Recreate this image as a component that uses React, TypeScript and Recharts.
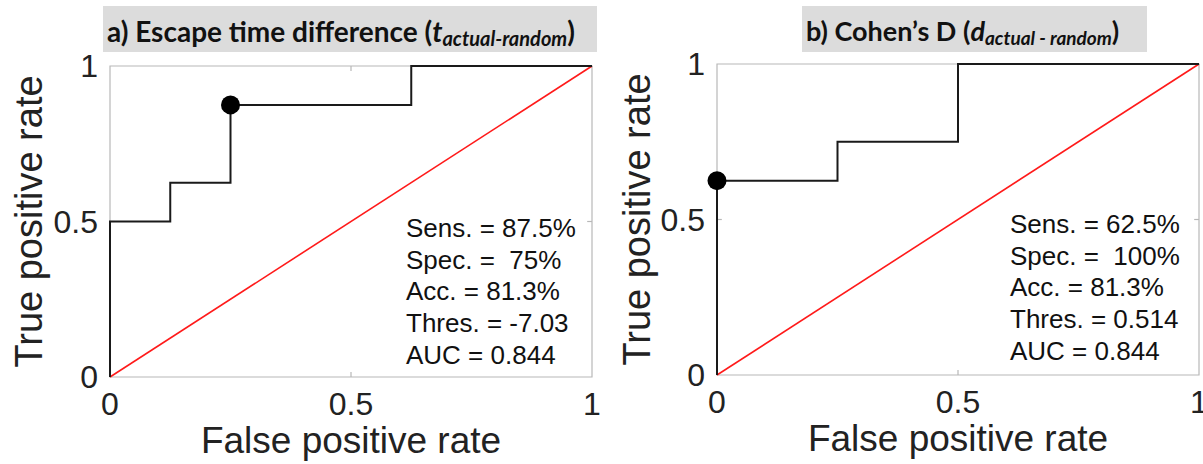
import React from 'react';
import { ComposedChart, Line, Scatter, XAxis, YAxis, ReferenceArea, ReferenceLine, Label } from 'recharts';

// ---- data ----
const fprA = [0, 0, 0.125, 0.125, 0.25, 0.25, 0.625, 0.625, 1];
const tprA = [0, 0.5, 0.5, 0.625, 0.625, 0.875, 0.875, 1, 1];
const fprB = [0, 0, 0.25, 0.25, 0.5, 0.5, 1];
const tprB = [0, 0.625, 0.625, 0.75, 0.75, 1, 1];
const chanceFpr = [0, 1];
const chanceTpr = [0, 1];
const optFprA = [0.25];
const optTprA = [0.875];
const optFprB = [0];
const optTprB = [0.625];
const axisTicks = [0, 0.5, 1];
const axisTickLabels = ['0', '0.5', '1'];
const statsA = ['Sens. = 87.5%', 'Spec. =  75%', 'Acc. = 81.3%', 'Thres. = -7.03', 'AUC = 0.844'];
const statsB = ['Sens. = 62.5%', 'Spec. =  100%', 'Acc. = 81.3%', 'Thres. = 0.514', 'AUC = 0.844'];
const xLabel = 'False positive rate';
const yLabel = 'True positive rate';

const zip = (xs: number[], ys: number[]) => xs.map((x, i) => ({ x, y: ys[i] }));

const SANS = '"Liberation Sans", Arial, Helvetica, sans-serif';
const TEXT = '#222';
const FRAME = '#b8b8b8';

type PanelProps = {
  left: number;
  width: number;
  yAxisWidth: number;
  margin: { top: number; right: number; bottom: number; left: number };
  yLabelX: number;
  curve: { x: number; y: number }[];
  opt: { x: number; y: number }[];
  tickLenY: number;
  tickLenX: number;
};

const fmt = (v: number) => axisTickLabels[axisTicks.indexOf(v)] ?? String(v);

function Panel(p: PanelProps) {
  const chance = zip(chanceFpr, chanceTpr);
  return (
    <div style={{ position: 'absolute', left: p.left, top: 0 }}>
      <ComposedChart width={p.width} height={464} margin={p.margin}>
        <XAxis
          type="number"
          dataKey="x"
          domain={[0, 1]}
          ticks={axisTicks}
          tickFormatter={fmt}
          interval={0}
          axisLine={false}
          tickLine={false}
          tickSize={0}
          tickMargin={15}
          height={40}
          tick={{ fontSize: 32, fill: TEXT, fontFamily: SANS }}
        >
          <Label
            content={(props: any) => {
              const vb = props.viewBox || {};
              return (
                <text x={vb.x + vb.width / 2} y={vb.y + 76} textAnchor="middle" fontSize={37} fill={TEXT} fontFamily={SANS}>
                  {xLabel}
                </text>
              );
            }}
          />
        </XAxis>
        <YAxis
          type="number"
          dataKey="y"
          domain={[0, 1]}
          ticks={axisTicks}
          tickFormatter={fmt}
          interval={0}
          axisLine={false}
          tickLine={false}
          tickSize={0}
          tickMargin={12}
          width={p.yAxisWidth}
          tick={{ fontSize: 32, fill: TEXT, fontFamily: SANS }}
        >
          <Label
            content={(props: any) => {
              const vb = props.viewBox || {};
              const cx = vb.x + p.yLabelX;
              const cy = vb.y + vb.height / 2;
              return (
                <text x={cx} y={cy} transform={`rotate(-90, ${cx}, ${cy})`} textAnchor="middle" fontSize={38} fill={TEXT} fontFamily={SANS}>
                  {yLabel}
                </text>
              );
            }}
          />
        </YAxis>
        <ReferenceArea x1={0} x2={1} y1={0} y2={1} fill="none" stroke={FRAME} strokeWidth={1.2} ifOverflow="visible" />
        <ReferenceLine segment={[{ x: 0.5, y: 0 }, { x: 0.5, y: p.tickLenY }]} stroke={FRAME} strokeWidth={1.2} />
        <ReferenceLine segment={[{ x: 0.5, y: 1 }, { x: 0.5, y: 1 - p.tickLenY }]} stroke={FRAME} strokeWidth={1.2} />
        <ReferenceLine segment={[{ x: 0, y: 0.5 }, { x: p.tickLenX, y: 0.5 }]} stroke={FRAME} strokeWidth={1.2} />
        <ReferenceLine segment={[{ x: 1, y: 0.5 }, { x: 1 - p.tickLenX, y: 0.5 }]} stroke={FRAME} strokeWidth={1.2} />
        <Line data={chance} dataKey="y" type="linear" stroke="#ff1a1a" strokeWidth={1.6} dot={false} isAnimationActive={false} />
        <Line data={p.curve} dataKey="y" type="linear" stroke="#1a1a1a" strokeWidth={2} dot={false} isAnimationActive={false} />
        <Scatter
          data={p.opt}
          dataKey="y"
          isAnimationActive={false}
          shape={(s: any) => <circle cx={s.cx} cy={s.cy} r={9.5} fill="#000" />}
        />
      </ComposedChart>
    </div>
  );
}

function Title({ left, width, main, italic, sub, size }: { left: number; width: number; main: string; italic: string; sub: string; size: number }) {
  return (
    <div
      style={{
        position: 'absolute',
        left,
        top: 6,
        width,
        height: 46,
        background: '#dcdcdc',
        fontFamily: 'Lato, "Open Sans", sans-serif',
        fontWeight: 700,
        fontSize: size,
        lineHeight: '46px',
        paddingLeft: 4,
        paddingTop: 2,
        boxSizing: 'border-box',
        color: '#111',
        whiteSpace: 'pre',
        overflow: 'hidden',
      }}
    >
      {main}
      <span style={{ fontStyle: 'italic' }}>{italic}</span>
      <span style={{ fontStyle: 'italic', fontSize: Math.round(size * 0.72), verticalAlign: -4 }}>{sub}</span>
      {')'}
    </div>
  );
}

function Stats({ left, top, lines }: { left: number; top: number; lines: string[] }) {
  return (
    <div
      style={{
        position: 'absolute',
        left,
        top,
        fontFamily: SANS,
        fontSize: 26,
        lineHeight: '31.7px',
        color: '#111',
        whiteSpace: 'pre',
      }}
    >
      {lines.map((l, i) => (
        <div key={i}>{l}</div>
      ))}
    </div>
  );
}

export default function App() {
  return (
    <div style={{ position: 'absolute', left: 0, top: 0, width: 1203, height: 464, background: '#fff', overflow: 'hidden' }}>
      <Panel
        left={0}
        width={600}
        yAxisWidth={110}
        margin={{ top: 66, right: 8, bottom: 47, left: 0 }}
        yLabelX={42}
        curve={zip(fprA, tprA)}
        opt={zip(optFprA, optTprA)}
        tickLenY={0.016}
        tickLenX={0.01}
      />
      <Panel
        left={603}
        width={600}
        yAxisWidth={114}
        margin={{ top: 64, right: 4, bottom: 49, left: 0 }}
        yLabelX={47}
        curve={zip(fprB, tprB)}
        opt={zip(optFprB, optTprB)}
        tickLenY={0.016}
        tickLenX={0.01}
      />
      <Title left={103} width={494} size={28} main="a) Escape time difference (" italic="t" sub="actual-random" />
      <Title left={802} width={345} size={27} main="b) Cohen’s D (" italic="d" sub="actual - random" />
      <Stats left={406} top={213} lines={statsA} />
      <Stats left={1010} top={209} lines={statsB} />
    </div>
  );
}
